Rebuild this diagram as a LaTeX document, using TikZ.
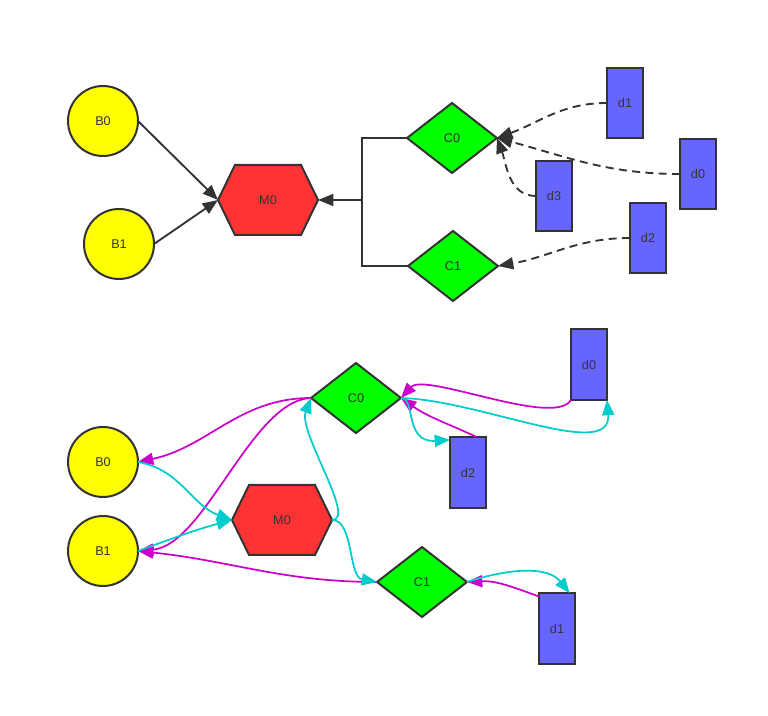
\documentclass[tikz,border=0pt]{standalone}
\usepackage{fontspec}
\setmainfont{Liberation Sans}
\usetikzlibrary{shapes.geometric,arrows.meta}
\definecolor{edgec}{HTML}{333333}
\definecolor{textc}{HTML}{333333}
\definecolor{ballY}{HTML}{FFFF00}
\definecolor{diaG}{HTML}{00FF00}
\definecolor{hexR}{HTML}{FF3333}
\definecolor{boxB}{HTML}{6666FF}
\definecolor{magc}{HTML}{CC00CC}
\definecolor{cyac}{HTML}{00CCCC}
\newcommand\lblfont{\fontsize{9.5}{11}\selectfont}
\begin{document}
\begin{tikzpicture}[x=0.75pt,y=-0.75pt,
  every node/.style={text=textc,font=\lblfont,inner sep=0pt,outer sep=0pt},
  ball/.style={circle,draw=edgec,line width=1.5pt,fill=ballY,minimum size=52.5pt},
  dia/.style={diamond,draw=edgec,line width=1.5pt,fill=diaG,minimum width=67.5pt,minimum height=52.5pt,shape aspect=1.3},
  drect/.style={rectangle,draw=edgec,line width=1.5pt,fill=boxB,minimum width=27pt,minimum height=53pt},
  hexlbl/.style={rectangle,minimum width=75pt,minimum height=52.5pt},
  hexshape/.style={draw=edgec,fill=hexR,line width=1.5pt,line join=miter},
  tipA/.style={-{Triangle[length=11.5pt,width=9pt]}},
  solidarr/.style={draw=edgec,line width=1.4pt,tipA},
  plainln/.style={draw=edgec,line width=1.4pt},
  dasharr/.style={solidarr,dash pattern=on 6pt off 4pt},
  magarr/.style={draw=magc,line width=1.3pt,tipA},
  cyaarr/.style={draw=cyac,line width=1.3pt,tipA}]
\useasboundingbox (0,0) rectangle (768,716);

% ---------------- top diagram ----------------
\path[hexshape] (218,200) -- (235,165) -- (301,165) -- (318,200) -- (301,235) -- (235,235) -- cycle;
\node[hexlbl] (M0) at (268,200) {M0};
\node[ball] (B0) at (103,121) {B0};
\node[ball] (B1) at (119,244) {B1};
\node[dia] (C0) at (452,138) {C0};
\node[dia] (C1) at (453,266) {C1};
\node[drect] (d1) at (625,103) {d1};
\node[drect] (d0) at (698,174) {d0};
\node[drect] (d3) at (554,196) {d3};
\node[drect] (d2) at (648,238) {d2};
\coordinate (J) at (362,200);

\draw[solidarr] (B0.east) -- (M0.west);
\draw[solidarr] (B1.east) -- (M0.west);
\draw[plainln] (C0.west) -| (J);
\draw[plainln] (C1.west) -| (J);
\draw[solidarr] (J) -- (M0.east);
\draw[dasharr] (d1.west) to[out=180,in=20] (C0.east);
\draw[dasharr] (d0.west) to[out=180,in=-15] (C0.east);
\draw[dasharr] (d3.west) to[out=180,in=-70] (C0.east);
\draw[dasharr] (d2.west) to[out=180,in=10] (C1.east);

% ---------------- bottom diagram ----------------
\path[hexshape] (232,520) -- (249,485) -- (315,485) -- (332,520) -- (315,555) -- (249,555) -- cycle;
\node[hexlbl] (bM0) at (282,520) {M0};
\node[ball] (bB0) at (103,462) {B0};
\node[ball] (bB1) at (103,551) {B1};
\node[dia] (bC0) at (356,398) {C0};
\node[dia] (bC1) at (422,582) {C1};
\node[drect] (bd0) at (589,364.5) {d0};
\node[drect] (bd2) at (468,472.5) {d2};
\node[drect] (bd1) at (557,628.5) {d1};

% magenta
\draw[magarr] (bC0.west) to[out=180,in=12] (bB0.east);
\draw[magarr] (bC0.west) .. controls (252,400) and (205,545) .. (bB1.east);
\draw[magarr] (bC1.west) to[out=180,in=-6] (bB1.east);
\draw[magarr] (bd0.south west) .. controls (555,428) and (425,372) .. (bC0.east);
\draw[magarr] ([xshift=6.75pt]bd2.north) to[out=155,in=-35] (bC0.east);
\draw[magarr] ([yshift=-2.5pt]bd1.north west) to[out=160,in=3] (bC1.east);

% cyan
\draw[cyaarr] (bB0.east) to[out=-10,in=160] (bM0.west);
\draw[cyaarr] (bB1.east) to[out=20,in=195] (bM0.west);
\draw[cyaarr] (bM0.east) .. controls (357,520) and (298,432) .. (bC0.west);
\draw[cyaarr] (bM0.east) .. controls (354,520) and (348,577) .. (bC1.west);
\draw[cyaarr] (bC0.east) .. controls (416,398) and (404,443) .. ([yshift=-2pt]bd2.north west);
\draw[cyaarr] (bC0.east) .. controls (480,400) and (612,462) .. (bd0.south east);
\draw[cyaarr] (bC1.east) .. controls (510,568) and (548,566) .. ([xshift=-4pt]bd1.north east);
\end{tikzpicture}
\end{document}
